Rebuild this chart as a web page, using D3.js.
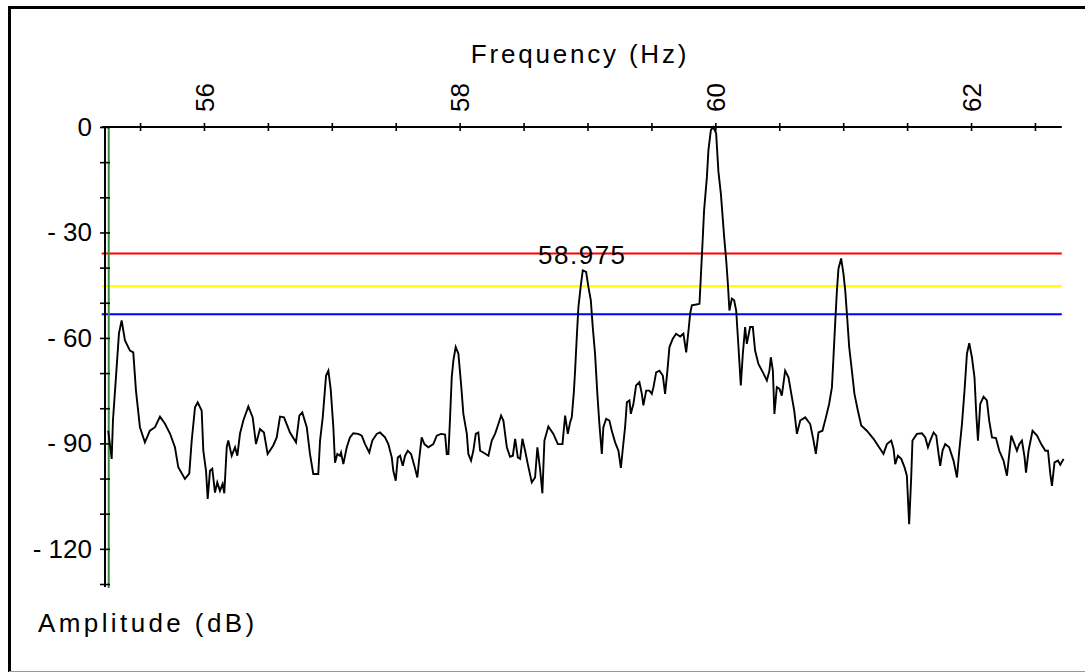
<!DOCTYPE html>
<html>
<head>
<meta charset="utf-8">
<script src="https://cdn.jsdelivr.net/npm/d3@7"></script>
<style>
  html, body { margin: 0; padding: 0; background: #fff; }
  svg { display: block; font-family: "Liberation Sans", Arial, sans-serif; }
</style>
</head>
<body>
<div id="container"></div>
<script>
// spectrum trace (Hz, dB)
var freq = [
  55.251,55.278,55.288,55.317,55.335,55.356,55.382,55.421,55.447,55.468,
  55.499,55.538,55.577,55.617,55.656,55.695,55.734,55.773,55.799,55.851,
  55.885,55.904,55.930,55.951,55.982,55.995,56.016,56.029,56.047,56.065,
  56.086,56.104,56.125,56.146,56.159,56.178,56.190,56.217,56.243,56.261,
  56.282,56.308,56.347,56.381,56.407,56.438,56.469,56.498,56.542,56.569,
  56.595,56.626,56.673,56.720,56.746,56.769,56.804,56.829,56.855,56.894,
  56.908,56.929,56.955,56.973,56.991,57.012,57.025,57.043,57.064,
  57.072,57.090,57.117,57.142,57.168,57.207,57.234,57.260,57.293,57.317,
  57.351,57.377,57.416,57.442,57.469,57.481,57.500,57.516,57.534,57.555,
  57.573,57.594,57.620,57.646,57.669,57.682,57.703,57.724,57.755,57.794,
  57.821,57.854,57.886,57.899,57.912,57.925,57.938,57.951,57.969,57.990,
  58.011,58.029,58.056,58.068,58.089,58.107,58.126,58.146,58.160,58.185,
  58.225,58.251,58.277,58.303,58.324,58.342,58.369,58.394,58.416,58.434,
  58.455,58.473,58.491,58.512,58.533,58.564,58.590,58.608,58.629,58.647,
  58.663,58.694,58.733,58.768,58.804,58.825,58.846,58.864,58.877,58.893,
  58.903,58.916,58.929,58.948,58.963,58.989,59.007,59.026,59.041,59.059,
  59.077,59.093,59.112,59.124,59.146,59.171,59.190,59.216,59.242,59.261,
  59.276,59.294,59.308,59.328,59.339,59.359,59.380,59.406,59.425,59.437,
  59.459,59.484,59.503,59.516,59.537,59.563,59.589,59.607,59.625,59.641,
  59.667,59.693,59.725,59.750,59.772,59.790,59.803,59.816,59.850,59.876,
  59.889,59.902,59.912,59.934,59.946,59.965,59.983,60.006,60.024,60.043,
  60.059,60.069,60.085,60.098,60.110,60.129,60.147,60.163,60.181,60.199,
  60.215,60.233,60.246,60.272,60.293,60.311,60.337,60.372,60.403,60.423,
  60.434,60.450,60.462,60.481,60.502,60.520,60.546,60.572,60.599,60.617,
  60.638,60.664,60.703,60.742,60.768,60.786,60.807,60.838,60.865,60.890,
  60.912,60.924,60.937,60.951,60.963,60.984,61.002,61.016,61.029,61.047,
  61.068,61.088,61.115,61.141,61.185,61.237,61.290,61.315,61.342,61.376,
  61.394,61.407,61.428,61.454,61.480,61.498,61.516,61.532,61.542,61.577,
  61.616,61.642,61.663,61.681,61.707,61.728,61.746,61.759,61.777,61.798,
  61.829,61.863,61.890,61.908,61.929,61.949,61.968,61.986,62.007,62.027,
  62.041,62.054,62.072,62.098,62.124,62.142,62.164,62.195,62.221,62.254,
  62.281,62.299,62.315,62.340,62.359,62.377,62.398,62.419,62.430,62.450,
  62.481,62.516,62.549,62.581,62.602,62.620,62.633,62.653,62.680,62.698,
  62.724
];
var amp = [
  -86.4,-94.4,-83.5,-68.3,-58.7,-55.0,-60.7,-63.6,-64.1,-75.0,
  -85.4,-89.7,-86.4,-85.4,-82.4,-84.4,-87.2,-91.1,-96.8,-100.1,
  -98.6,-89.2,-79.7,-78.3,-80.7,-92.1,-97.8,-105.8,-97.8,-97.2,
  -104.0,-101.1,-103.5,-101.5,-104.2,-91.1,-89.2,-93.5,-91.1,-93.5,
  -87.2,-83.5,-79.5,-82.6,-90.2,-85.9,-86.9,-93.0,-90.6,-88.3,
  -82.4,-82.6,-86.9,-89.7,-82.1,-81.2,-85.4,-93.0,-98.7,-98.7,
  -89.2,-82.6,-70.7,-69.3,-74.5,-85.4,-95.5,-93.0,-93.5,
  -92.6,-95.9,-91.1,-88.3,-87.1,-87.3,-87.8,-90.2,-92.6,-89.2,
  -87.3,-86.9,-88.3,-90.2,-94.0,-97.8,-100.6,-94.0,-93.5,-96.4,
  -93.5,-92.1,-93.0,-96.4,-99.7,-94.9,-88.3,-90.2,-91.1,-90.2,
  -87.8,-87.3,-87.5,-93.0,-93.0,-82.6,-71.2,-66.4,-62.6,-64.5,
  -73.1,-81.6,-87.3,-93.0,-94.9,-92.1,-87.3,-86.9,-92.1,-92.6,
  -93.5,-89.2,-87.3,-84.5,-82.1,-83.5,-91.1,-93.8,-93.5,-88.7,
  -94.0,-94.4,-88.7,-92.1,-95.9,-101.1,-99.7,-91.1,-97.3,-104.2,
  -89.2,-85.2,-87.3,-90.2,-90.2,-82.1,-87.3,-84.0,-82.6,-75.5,
  -69.3,-59.8,-51.2,-45.0,-40.8,-41.2,-45.5,-49.3,-56.9,-64.5,
  -75.9,-84.5,-93.0,-85.4,-83.0,-83.5,-86.4,-89.7,-92.1,-97.0,
  -91.6,-85.4,-78.3,-77.8,-81.6,-78.8,-73.5,-72.6,-75.9,-79.2,
  -75.0,-75.0,-75.9,-74.0,-69.8,-69.3,-70.7,-75.9,-69.3,-62.6,
  -60.2,-58.8,-59.6,-58.8,-64.1,-57.9,-53.1,-50.7,-50.5,-50.3,
  -40.8,-31.3,-23.7,-14.2,-6.6,-0.9,0,-1.7,-12.7,-18.9,
  -26.5,-31.3,-37.9,-44.6,-52.2,-48.8,-49.3,-52.2,-62.6,-73.5,
  -64.5,-56.9,-61.7,-56.9,-56.9,-63.6,-67.4,-69.8,-72.1,-69.3,
  -65.5,-69.3,-81.6,-74.0,-74.5,-76.4,-69.3,-71.2,-76.9,-80.7,
  -87.3,-83.5,-82.6,-84.5,-89.2,-93.0,-86.9,-86.4,-82.6,-78.8,
  -74.0,-65.5,-56.0,-46.5,-40.3,-37.4,-41.7,-46.5,-53.1,-62.6,
  -69.3,-75.9,-80.7,-84.9,-86.4,-88.7,-91.6,-93.0,-90.2,-89.2,
  -91.6,-95.9,-93.5,-94.4,-96.8,-99.2,-113.0,-99.7,-89.2,-87.3,
  -87.1,-88.3,-91.1,-89.2,-86.9,-87.8,-93.0,-96.4,-92.1,-90.2,
  -91.1,-94.9,-99.7,-92.1,-84.5,-75.0,-64.5,-61.5,-65.5,-71.2,
  -81.6,-89.2,-78.8,-76.7,-77.8,-83.5,-88.3,-88.5,-92.1,-94.9,
  -99.2,-93.0,-87.8,-90.2,-92.1,-90.2,-89.2,-94.0,-98.3,-92.1,
  -86.4,-87.8,-90.2,-92.1,-92.1,-98.7,-102.1,-95.4,-94.9,-96.1,
  -94.4
];

// threshold lines (dB) and their colours
var levels = [-36.0, -45.2, -53.3];
var levelColors = ["#ff0000", "#ffff00", "#0000ff"];

// axes
var freqTicks = [55.5,56,56.5,57,57.5,58,58.5,59,59.5,60,60.5,61,61.5,62,62.5];
var freqLabels = [56, 58, 60, 62];
var dbTicks = [0,-10,-20,-30,-40,-50,-60,-70,-80,-90,-100,-110,-120,-130];
var dbLabels = [0, -30, -60, -90, -120];

var markerFreq = 55.255;     // green cursor
var peakFreq = 58.975;       // annotated peak

var W = 1085, H = 672;

var svg = d3.select("#container").append("svg")
  .attr("width", W)
  .attr("height", H);

// frame
svg.append("rect")
  .attr("x", 9.5).attr("y", 7.5)
  .attr("width", 1090).attr("height", 700)
  .style("fill", "white")
  .style("stroke", "black")
  .style("stroke-width", 3);
svg.append("line")
  .attr("x1", 9).attr("x2", W).attr("y1", 671.5).attr("y2", 671.5)
  .style("stroke", "#999").style("stroke-width", 1);

var x = d3.scaleLinear().domain([55.2, 62.71]).range([101.7, 1061.8]);
var y = d3.scaleLinear().domain([0, -130]).range([127, 584]);

var fontSize = 26;

// threshold lines
svg.selectAll(".level")
  .data(levels)
  .enter().append("line")
  .attr("class", "level")
  .attr("x1", x.range()[0]).attr("x2", x.range()[1])
  .attr("y1", function(d){ return y(d); })
  .attr("y2", function(d){ return y(d); })
  .style("stroke", function(d,i){ return levelColors[i]; })
  .style("stroke-width", 2);

// green cursor
svg.append("line")
  .attr("x1", x(markerFreq)).attr("x2", x(markerFreq))
  .attr("y1", y(0)).attr("y2", y(-130) + 4)
  .style("stroke", "#3c8a3c")
  .style("stroke-width", 2);

// x axis (top)
var xAxis = d3.axisTop(x)
  .tickValues(freqTicks)
  .tickSize(4)
  .tickFormat(function(d){ return freqLabels.indexOf(d) >= 0 ? d : ""; });

var gx = svg.append("g")
  .attr("transform", "translate(0," + y(0) + ")")
  .call(xAxis);
gx.select(".domain").remove();
gx.append("line")
  .attr("x1", x.range()[0]).attr("x2", x.range()[1])
  .style("stroke", "black").style("stroke-width", 2);
gx.selectAll(".tick line")
  .attr("y1", -4).attr("y2", 4)
  .style("stroke", "black").style("stroke-width", 1.6);
gx.selectAll(".tick text")
  .attr("transform", "rotate(-90)")
  .attr("x", 15).attr("y", 0).attr("dy", "0.35em")
  .style("text-anchor", "start")
  .style("font-size", fontSize + "px")
  .style("font-family", "'Liberation Sans', Arial, sans-serif")
  .style("fill", "black");

// y axis (left)
var yAxis = d3.axisLeft(y)
  .tickValues(dbTicks)
  .tickSize(5)
  .tickPadding(8)
  .tickFormat(function(d){
    if (dbLabels.indexOf(d) < 0) return "";
    return d < 0 ? "- " + (-d) : "" + d;
  });

var gy = svg.append("g")
  .attr("transform", "translate(" + 105 + ",0)")
  .call(yAxis);
gy.select(".domain").remove();
gy.append("line")
  .attr("y1", y(0)).attr("y2", y(-130) + 3)
  .style("stroke", "black").style("stroke-width", 2);
gy.selectAll(".tick line")
  .attr("x1", -5).attr("x2", 5)
  .style("stroke", "black").style("stroke-width", 1.6);
gy.selectAll(".tick text")
  .style("font-size", fontSize + "px")
  .style("font-family", "'Liberation Sans', Arial, sans-serif")
  .style("fill", "black");

// spectrum trace
var points = d3.range(Math.min(freq.length, amp.length)).map(function(i){
  return [freq[i], amp[i]];
});
var line = d3.line()
  .x(function(d){ return x(d[0]); })
  .y(function(d){ return y(d[1]); });

svg.append("path")
  .datum(points)
  .attr("d", line)
  .style("fill", "none")
  .style("stroke", "black")
  .style("stroke-width", 1.9)
  .style("stroke-linejoin", "miter");

// peak annotation
svg.append("text")
  .attr("x", x(peakFreq) - 2)
  .attr("y", y(levels[0]) + 10)
  .style("text-anchor", "middle")
  .style("font-size", fontSize + "px")
  .style("letter-spacing", "1.5px")
  .text("58.975");

// axis titles
svg.append("text")
  .attr("x", 580).attr("y", 63)
  .style("text-anchor", "middle")
  .style("font-size", fontSize + "px")
  .style("letter-spacing", "2.8px")
  .text("Frequency (Hz)");

svg.append("text")
  .attr("x", 38).attr("y", 632)
  .style("text-anchor", "start")
  .style("font-size", fontSize + "px")
  .style("letter-spacing", "3.4px")
  .text("Amplitude (dB)");
</script>
</body>
</html>
